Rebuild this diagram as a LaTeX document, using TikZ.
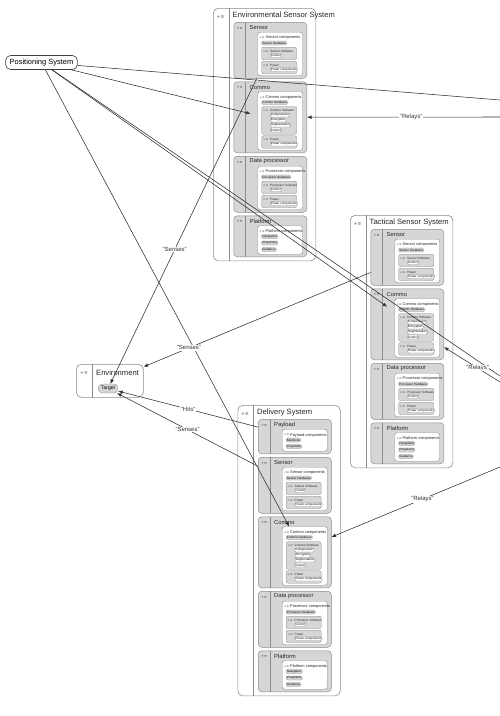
\documentclass[tikz,border=0pt]{standalone}
\usepackage{fontspec}
\setmainfont{Liberation Sans}
\newfontfamily\iconfont{DejaVu Sans}
\usetikzlibrary{arrows.meta,positioning}

\definecolor{boxline}{HTML}{8C8C8C}
\definecolor{partfill}{HTML}{D6D6D6}
\definecolor{linkgray}{HTML}{2E2E2E}

\tikzset{
  sysbox/.style={draw=boxline, rounded corners=5pt, fill=white, line width=0.6pt, anchor=north west, inner sep=0pt},
  partbox/.style={draw=boxline, rounded corners=3.5pt, fill=partfill, line width=0.5pt, anchor=north west, inner sep=0pt, minimum width=73pt},
  compbox/.style={draw=boxline, rounded corners=2.5pt, fill=white, line width=0.4pt, anchor=north west, inner sep=0pt, minimum width=45pt},
  subbox/.style={draw=boxline, rounded corners=2pt, fill=partfill, line width=0.35pt, anchor=north west, inner sep=0pt, minimum width=35pt},
  pill/.style={draw=boxline, rounded corners=1.5pt, fill=partfill, line width=0.3pt, anchor=west, inner xsep=1pt, inner ysep=0pt, minimum height=4pt, font=\fontsize{3}{3}\selectfont},
  wpill/.style={pill, fill=white},
  divider/.style={draw=boxline, line width=0.4pt},
  systitle/.style={anchor=west, inner sep=0pt, text=black!85, font=\fontsize{7.6}{8}\selectfont},
  parttitle/.style={anchor=west, inner sep=0pt, text=black!85, font=\fontsize{5.8}{6}\selectfont},
  comptitle/.style={anchor=west, inner sep=0pt, text=black!85, font=\fontsize{3.9}{4}\selectfont},
  subtitle/.style={anchor=west, inner sep=0pt, text=black!85, font=\fontsize{3.1}{3.2}\selectfont},
  icon/.style={inner sep=0pt, text=black!70, font=\iconfont\fontsize{3.5}{3.5}\selectfont},
  possys/.style={draw=black!75, rounded corners=5pt, fill=white, line width=0.6pt, inner xsep=4pt, minimum height=14pt, font=\fontsize{7.5}{8}\selectfont},
  link/.style={draw=linkgray, line width=0.55pt},
  arr/.style={link, -{Latex[length=4.5pt, width=3.5pt]}},
  lbl/.style={fill=white, inner sep=0.6pt, text=black!80, font=\fontsize{6}{6}\selectfont},
}

% outer frame of a system: name, height, title
\newcommand\sysframe[3]{%
  \node[sysbox, minimum width=102.5pt, minimum height=#2pt] (#1) at (0,0) {};
  \draw[divider] (16,0) -- (16,#2);
  \node[icon, font=\iconfont\fontsize{4.5}{4.5}\selectfont] (#1-i) at (7.5,9) {+≡};
  \node[systitle] (#1-t) at (19.5,7.5) {#3};
}

% one part: name, top, height, title, components title, contents
\newcommand\partblock[6]{%
  \begin{scope}[shift={(20.5,#2)}]
    \node[partbox, minimum height=#3pt] (#1) at (0,0) {};
    \draw[divider] (12,0) -- (12,#3);
    \node[icon] (#1-i) at (6,6) {+≡};
    \node[parttitle] (#1-t) at (16,5.5) {#4};
    \node[compbox, minimum height=#3pt-12.5pt] (#1-c) at (24,10) {};
    \node[icon, font=\iconfont\fontsize{3}{3}\selectfont] (#1-ci) at (28.5,16) {+≡};
    \node[comptitle] (#1-ct) at (32,16) {#5};
    #6
  \end{scope}
}

% pills in a components box: name, first centre, list
\newcommand\pilllist[3]{%
  \foreach \txt [count=\k] in {#3} {\node[pill] (#1-\k) at (28,#2-6.5+6.5*\k) {\txt};}
}

% grey sub box with pills: name, top, height, title, list
\newcommand\subblock[5]{%
  \node[subbox, minimum height=#3pt] (#1) at (28,#2) {};
  \node[icon, font=\iconfont\fontsize{3}{3}\selectfont] (#1-i) at (32,#2+4.2) {+≡};
  \node[subtitle] (#1-t) at (36.5,#2+4.2) {#4};
  \foreach \txt [count=\k] in {#5} {\node[wpill] (#1-\k) at (36.5,#2+3.5+5*\k) {\txt};}
}

% the four parts every system carries: prefix, top
\newcommand\sensorsuite[2]{%
  \partblock{#1Sensor}{#2}{56}{Sensor}{Sensor components}{%
    \pilllist{#1SensorHw}{21}{Sensor Hardware}
    \subblock{#1SensorSw}{25}{12.5}{Sensor Software}{Control}
    \subblock{#1SensorPw}{39}{12.5}{Power}{Power components}}
  \partblock{#1Commo}{#2+59.5}{71}{Commo}{Commo components}{%
    \pilllist{#1CommoHw}{21}{Commo Hardware}
    \subblock{#1CommoSw}{25}{27.5}{Commo Software}{Compression,Encryption,Segmentation,Control}
    \subblock{#1CommoPw}{54}{12.5}{Power}{Power components}}
  \partblock{#1Proc}{#2+134}{56}{Data processor}{Processor components}{%
    \pilllist{#1ProcHw}{21}{Processor Hardware}
    \subblock{#1ProcSw}{25}{12.5}{Processor Software}{Control}
    \subblock{#1ProcPw}{39}{12.5}{Power}{Power components}}
  \partblock{#1Platform}{#2+193.5}{41}{Platform}{Platform components}{%
    \pilllist{#1Nav}{21}{Navigation,Propulsion,Guidance}}
}

\begin{document}
\begin{tikzpicture}[x=1pt, y=-1pt]
  \useasboundingbox (0,0) rectangle (500,716);

  % Positioning system
  \node[possys] (pos) at (41.5,62.5) {Positioning System};

  % Environmental sensor system
  \begin{scope}[shift={(213,8)}]
    \sysframe{ess}{252.5}{Environmental Sensor System}
    \sensorsuite{ess}{14}
  \end{scope}

  % Tactical sensor system
  \begin{scope}[shift={(350,215)}]
    \sysframe{tss}{252.5}{Tactical Sensor System}
    \sensorsuite{tss}{14}
  \end{scope}

  % Environment
  \node[sysbox, minimum width=67pt, minimum height=33pt] (env) at (76,364) {};
  \draw[divider] ([xshift=16pt]env.north west) -- ([xshift=16pt]env.south west);
  \node[icon, font=\iconfont\fontsize{4.5}{4.5}\selectfont] (env-i) at (84,373) {+≡};
  \node[systitle] (env-t) at (96,372.5) {Environment};
  \node[pill, rounded corners=4pt, inner xsep=3pt, minimum height=9pt, font=\fontsize{5}{5}\selectfont] (target) at (98,388.5) {Target};

  % Delivery system
  \begin{scope}[shift={(237.5,405)}]
    \sysframe{del}{290.5}{Delivery System}
    \partblock{delPayload}{14}{34.5}{Payload}{Payload components}{%
      \pilllist{delMun}{21}{Munitions,Projectiles}}
    \sensorsuite{del}{52}
  \end{scope}

  % ends off the right edge
  \coordinate (offA) at (500,100);
  \coordinate (offB) at (500,376);
  \coordinate (relA) at (500,117);
  \coordinate (relB) at (500,382);
  \coordinate (relC) at (500,467);

  % links
  \draw[link] (pos) -- (offA);
  \draw[link] (pos) -- (offB);
  \draw[arr, shorten >=7pt] (pos) -- (essCommo-c);
  \draw[arr, shorten >=9pt] (pos) -- (tssCommo-c);
  \draw[arr] (pos) -- (delCommo-c);
  \draw[arr] (relA) -- node[lbl, pos=0.46] (relA-l) {"Relays"} (essCommo);
  \draw[arr] (relB) -- node[lbl, pos=0.4] (relB-l) {"Relays"} (tssCommo);
  \draw[arr] (relC) -- node[lbl, pos=0.46] (relC-l) {"Relays"} (delCommo);
  \draw[arr] (essSensor) -- node[lbl, pos=0.56] (sensA-l) {"Senses"} (target);
  \draw[arr] (tssSensor) -- node[lbl, pos=0.8] (sensB-l) {"Senses"} (env);
  \draw[arr] (delPayload) -- node[lbl, pos=0.5] (hits-l) {"Hits"} (target);
  \draw[arr] (delSensor) -- node[lbl, pos=0.5] (sensC-l) {"Senses"} (target);
\end{tikzpicture}
\end{document}
